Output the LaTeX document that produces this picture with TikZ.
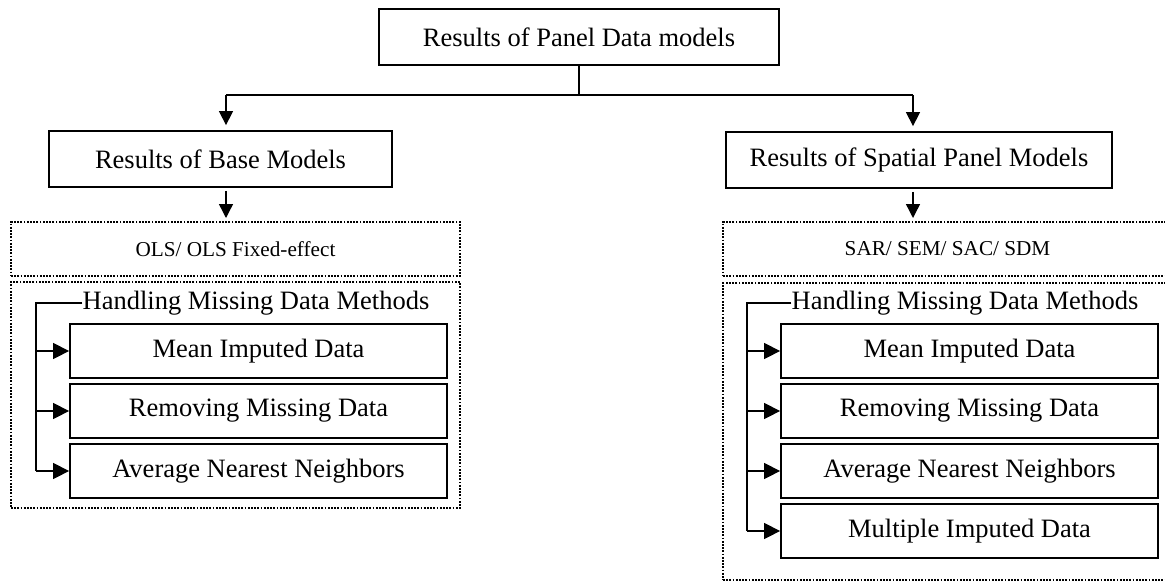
\documentclass[tikz,border=0pt]{standalone}
\usepackage{fontspec}
\setmainfont{Liberation Serif}
\usetikzlibrary{arrows.meta,calc}
\begin{document}
\begin{tikzpicture}[x=1pt,y=-1pt,
  big/.style={font=\fontsize{26.5}{30}\selectfont},
  small/.style={font=\fontsize{21.2}{25}\selectfont},
  solidbox/.style={draw, line width=1.8pt, rectangle, inner sep=0pt, big},
  dotbox/.style={draw, line width=2pt, dash pattern=on 1.8pt off 1.4pt,
                 rectangle, inner sep=0pt, minimum width=449pt},
  conn/.style={line width=1.4pt},
  downarr/.style={conn, -{Triangle[length=14pt,width=14pt]}},
  sidearr/.style={conn, -{Triangle[length=16pt,width=16pt]}},
  methodbox/.style={solidbox, minimum width=377pt, minimum height=54pt},
]
\useasboundingbox (0,0) rectangle (1165,582);

% top level
\node[solidbox, minimum width=400pt, minimum height=56pt] (top) at (579,37) {Results of Panel Data models};

% second level
\node[solidbox, minimum width=343pt, minimum height=56pt] (base) at (220.5,159) {Results of Base Models};
\node[solidbox, minimum width=386pt, minimum height=56pt] (spat) at (919,160) {Results of Spatial Panel Models};

% model families
\node[dotbox, small, minimum height=54pt] (ols) at (235.5,249) {OLS/ OLS Fixed-effect};
\node[dotbox, small, minimum height=54pt] (sar) at (947.5,249) {SAR/ SEM/ SAC/ SDM};

% missing-data containers
\node[dotbox, minimum height=226pt] (lpanel) at (235.5,395) {};
\node[dotbox, minimum height=297pt] (rpanel) at (947.5,431.5) {};

% left panel content
\node[big, inner sep=0pt] (lhd) at (256,303) {Handling Missing Data Methods};
\node[methodbox] (lm1) at (258.5,351) {Mean Imputed Data};
\node[methodbox] (lm2) at (258.5,411) {Removing Missing Data};
\node[methodbox] (lm3) at (258.5,471) {Average Nearest Neighbors};

% right panel content
\node[big, inner sep=0pt] (rhd) at (965,303) {Handling Missing Data Methods};
\node[methodbox] (rm1) at (969.5,351) {Mean Imputed Data};
\node[methodbox] (rm2) at (969.5,411) {Removing Missing Data};
\node[methodbox] (rm3) at (969.5,471) {Average Nearest Neighbors};
\node[methodbox] (rm4) at (969.5,531) {Multiple Imputed Data};

% split from the top box
\coordinate (jl) at (226,95);
\coordinate (jr) at (913,95);
\draw[conn] (top.south) -- (top.south |- jl);
\draw[conn] (jl) -- (jr);
\draw[downarr, shorten >=5pt] (jl) -- (jl |- base.north);
\draw[downarr, shorten >=5pt] (jr) -- (jr |- spat.north);

% second level to model families
\draw[downarr, shorten <=3pt, shorten >=3pt] (jl |- base.south) -- (jl |- ols.north);
\draw[downarr, shorten <=3pt, shorten >=3pt] (jr |- spat.south) -- (jr |- sar.north);

% bracket of the left panel
\coordinate (lb) at (36,303);
\draw[conn] (lhd.west) -- (lb) -- (lb |- lm3.west);
\draw[sidearr] (lb |- lm1.west) -- (lm1.west);
\draw[sidearr] (lb |- lm2.west) -- (lm2.west);
\draw[sidearr] (lb |- lm3.west) -- (lm3.west);

% bracket of the right panel
\coordinate (rb) at (747,303);
\draw[conn] (rhd.west) -- (rb) -- (rb |- rm4.west);
\draw[sidearr] (rb |- rm1.west) -- (rm1.west);
\draw[sidearr] (rb |- rm2.west) -- (rm2.west);
\draw[sidearr] (rb |- rm3.west) -- (rm3.west);
\draw[sidearr] (rb |- rm4.west) -- (rm4.west);
\end{tikzpicture}
\end{document}
